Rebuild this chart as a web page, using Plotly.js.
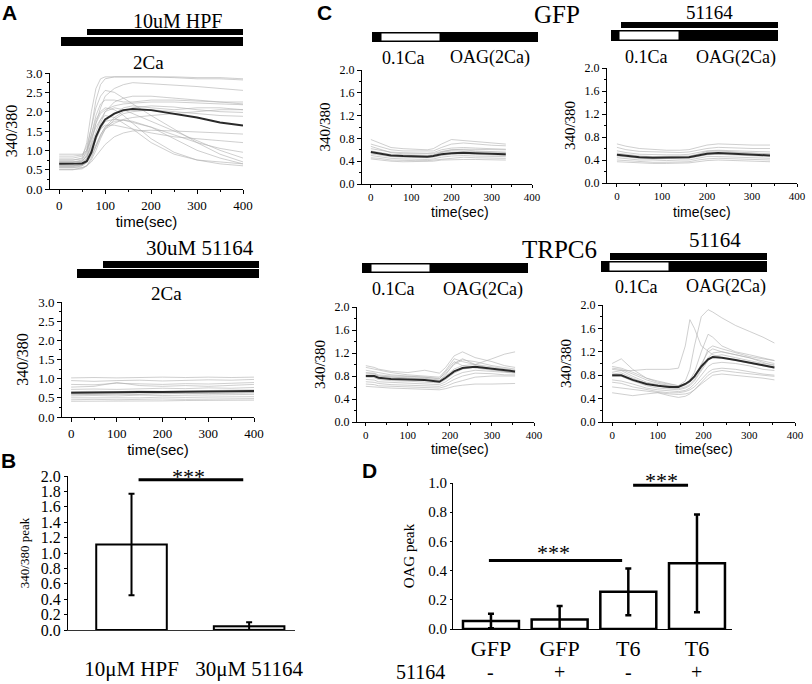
<!DOCTYPE html>
<html><head><meta charset="utf-8">
<script src="https://cdn.plot.ly/plotly-3.0.1.min.js"></script>
<style>html,body{margin:0;padding:0;background:#fff}#chart{width:812px;height:684px}</style>
</head><body><div id="chart"></div>
<script>
// ---------------- DATA ----------------
// Panel A top: 10uM HPF in 2Ca
const tA = [0,30,50,60,70,80,90,100,120,140,160,200,250,300,350,400];
const aMean = [0.65,0.65,0.66,0.72,0.95,1.35,1.62,1.8,1.95,2.04,2.07,2.04,1.95,1.85,1.72,1.64];
const aCells = [
 [0.75,0.75,0.8,1.2,2.0,2.6,2.85,2.9,2.9,2.9,2.9,2.9,2.9,2.88,2.88,2.85],
 [0.7,0.7,0.75,1.0,1.6,2.3,2.7,2.85,2.9,2.9,2.9,2.9,2.88,2.85,2.85,2.82],
 [0.6,0.6,0.65,0.8,1.2,1.7,2.1,2.4,2.6,2.7,2.75,2.72,2.7,2.65,2.6,2.55],
 [0.55,0.55,0.6,0.7,0.9,1.3,1.7,2.0,2.25,2.35,2.4,2.4,2.35,2.3,2.25,2.2],
 [0.65,0.65,0.7,0.9,1.3,1.7,1.95,2.05,2.15,2.2,2.22,2.25,2.25,2.22,2.2,2.18],
 [0.8,0.8,0.85,1.0,1.4,1.8,2.0,2.1,2.05,1.9,1.7,1.3,0.95,0.75,0.65,0.6],
 [0.9,0.9,0.9,1.0,1.3,1.6,1.8,1.9,1.85,1.7,1.55,1.2,0.9,0.75,0.7,0.65],
 [0.5,0.5,0.55,0.6,0.75,1.0,1.3,1.55,1.8,1.95,2.0,2.05,2.0,1.95,1.9,1.88],
 [0.55,0.55,0.55,0.6,0.7,0.85,1.0,1.15,1.35,1.45,1.5,1.52,1.5,1.48,1.45,1.42],
 [0.7,0.7,0.72,0.85,1.1,1.4,1.6,1.75,1.8,1.78,1.72,1.6,1.4,1.2,1.05,0.95],
 [0.85,0.85,0.88,1.1,1.6,2.1,2.4,2.55,2.5,2.35,2.2,1.9,1.55,1.2,0.9,0.7],
 [0.6,0.6,0.62,0.7,0.9,1.15,1.4,1.6,1.85,2.0,2.1,2.15,2.12,2.05,2.0,1.98],
 [0.65,0.65,0.68,0.8,1.05,1.35,1.55,1.65,1.65,1.6,1.55,1.45,1.35,1.3,1.25,1.2],
 [0.75,0.75,0.78,0.95,1.4,1.9,2.2,2.3,2.3,2.25,2.25,2.3,2.3,2.28,2.25,2.25],
 [0.5,0.5,0.52,0.6,0.8,1.1,1.4,1.6,1.75,1.78,1.75,1.6,1.3,1.0,0.8,0.65],
 [0.6,0.6,0.62,0.75,1.0,1.3,1.55,1.75,1.95,2.1,2.15,2.1,2.05,2.1,2.1,2.05],
 [0.7,0.7,0.72,0.85,1.15,1.5,1.8,2.0,2.1,2.05,1.95,1.75,1.5,1.25,1.0,0.8],
 [0.58,0.58,0.6,0.68,0.85,1.1,1.35,1.55,1.7,1.8,1.85,1.9,1.95,2.0,2.05,2.05]
];
// Panel A bottom: 30uM 51164 in 2Ca
const tB = [0,50,100,150,200,250,300,350,400];
const bMean = [0.63,0.64,0.65,0.65,0.65,0.66,0.66,0.67,0.68];
const bCells = [
 [1.02,1.03,1.02,1.03,1.04,1.03,1.04,1.03,1.04],
 [0.95,0.93,0.95,0.96,0.94,0.95,0.97,0.96,0.98],
 [0.85,0.84,0.88,0.86,0.85,0.87,0.86,0.88,0.9],
 [0.78,0.8,0.9,0.82,0.8,0.82,0.8,0.83,0.85],
 [0.72,0.73,0.72,0.74,0.75,0.74,0.76,0.75,0.77],
 [0.66,0.67,0.66,0.68,0.67,0.68,0.69,0.7,0.71],
 [0.6,0.6,0.61,0.6,0.62,0.61,0.62,0.63,0.63],
 [0.55,0.56,0.55,0.57,0.56,0.57,0.58,0.58,0.59],
 [0.5,0.5,0.51,0.5,0.52,0.51,0.52,0.52,0.53],
 [0.45,0.46,0.45,0.46,0.47,0.46,0.47,0.47,0.48],
 [0.41,0.41,0.42,0.42,0.42,0.43,0.43,0.43,0.44],
 [0.58,0.59,0.6,0.59,0.61,0.62,0.61,0.62,0.64]
];
// Panel B: peaks
const bCats = ['10\u03bcM HPF','30\u03bcM 51164'];
const bPeak = [1.11, 0.05];
const bErr = [0.66, 0.05];
// Panel C: GFP
const tC1 = [0,20,50,80,110,140,155,175,200,230,260,300,335];
const c1Mean = [0.56,0.54,0.50,0.49,0.48,0.48,0.49,0.52,0.54,0.55,0.54,0.53,0.52];
const c1Cells = [
 [0.78,0.72,0.64,0.62,0.61,0.6,0.62,0.7,0.78,0.76,0.74,0.72,0.7],
 [0.7,0.66,0.6,0.58,0.58,0.57,0.58,0.64,0.7,0.72,0.7,0.68,0.67],
 [0.62,0.6,0.56,0.55,0.54,0.54,0.55,0.6,0.63,0.64,0.63,0.62,0.61],
 [0.58,0.56,0.52,0.51,0.5,0.5,0.51,0.55,0.58,0.58,0.57,0.56,0.55],
 [0.53,0.51,0.48,0.47,0.46,0.46,0.47,0.5,0.52,0.53,0.52,0.51,0.5],
 [0.5,0.48,0.45,0.44,0.43,0.43,0.44,0.47,0.49,0.5,0.49,0.48,0.48],
 [0.46,0.45,0.42,0.41,0.41,0.41,0.42,0.44,0.46,0.47,0.46,0.45,0.45],
 [0.44,0.42,0.4,0.39,0.39,0.39,0.4,0.42,0.43,0.43,0.43,0.42,0.42],
 [0.55,0.53,0.5,0.5,0.49,0.49,0.5,0.56,0.6,0.6,0.58,0.57,0.56],
 [0.66,0.62,0.55,0.53,0.53,0.52,0.53,0.57,0.6,0.61,0.61,0.6,0.6]
];
// Panel C: GFP + 51164
const tC2 = [0,20,50,80,110,140,160,180,200,225,260,300,340];
const c2Mean = [0.49,0.47,0.45,0.44,0.44,0.45,0.45,0.48,0.51,0.52,0.51,0.49,0.48];
const c2Cells = [
 [0.68,0.64,0.6,0.58,0.57,0.57,0.58,0.62,0.66,0.68,0.67,0.66,0.66],
 [0.62,0.58,0.55,0.54,0.53,0.53,0.54,0.57,0.6,0.62,0.61,0.6,0.6],
 [0.56,0.53,0.5,0.49,0.49,0.49,0.5,0.53,0.56,0.57,0.56,0.55,0.54],
 [0.52,0.5,0.47,0.46,0.46,0.46,0.47,0.5,0.53,0.54,0.53,0.52,0.51],
 [0.47,0.45,0.43,0.42,0.42,0.42,0.43,0.46,0.49,0.5,0.49,0.47,0.46],
 [0.44,0.42,0.4,0.4,0.39,0.4,0.4,0.43,0.46,0.46,0.45,0.44,0.43],
 [0.4,0.39,0.37,0.36,0.36,0.37,0.37,0.4,0.42,0.43,0.42,0.41,0.4],
 [0.37,0.36,0.35,0.34,0.34,0.34,0.35,0.37,0.39,0.4,0.39,0.38,0.37],
 [0.5,0.48,0.46,0.45,0.45,0.45,0.46,0.5,0.55,0.56,0.54,0.52,0.5]
];
// Panel C: TRPC6
const tC3 = [0,20,30,60,100,140,175,190,210,230,260,300,330,355];
const c3Mean = [0.8,0.8,0.77,0.75,0.74,0.73,0.7,0.77,0.88,0.94,0.96,0.93,0.9,0.88];
const c3Cells = [
 [0.98,0.95,0.92,0.88,0.86,0.9,0.85,0.95,1.15,1.22,1.12,1.05,0.98,0.95],
 [0.95,0.92,0.9,0.86,0.82,0.8,0.78,0.9,1.1,1.05,1.0,1.1,1.18,1.22],
 [0.9,0.88,0.86,0.82,0.8,0.78,0.76,0.85,1.0,1.08,1.05,0.98,0.95,0.92],
 [0.85,0.84,0.8,0.78,0.77,0.76,0.73,0.8,0.92,0.98,1.0,0.96,0.92,0.9],
 [0.78,0.77,0.74,0.72,0.71,0.7,0.68,0.74,0.85,0.92,0.95,0.92,0.88,0.86],
 [0.74,0.73,0.7,0.69,0.68,0.67,0.65,0.7,0.8,0.86,0.9,0.88,0.86,0.85],
 [0.7,0.69,0.67,0.65,0.64,0.63,0.62,0.66,0.74,0.8,0.85,0.84,0.82,0.82],
 [0.66,0.65,0.63,0.62,0.61,0.6,0.59,0.62,0.68,0.72,0.78,0.8,0.8,0.8],
 [0.62,0.61,0.6,0.59,0.58,0.57,0.56,0.58,0.62,0.64,0.66,0.66,0.67,0.67],
 [0.82,0.82,0.8,0.78,0.76,0.75,0.72,0.82,1.02,1.1,1.0,0.92,0.88,0.86],
 [0.86,0.85,0.82,0.8,0.79,0.78,0.75,0.88,1.05,0.98,0.94,0.9,0.88,0.86]
];
// Panel C: TRPC6 + 51164
const tC4 = [0,20,45,75,100,125,145,160,170,180,195,210,220,240,270,300,330,355];
const c4Mean = [0.8,0.8,0.72,0.65,0.62,0.6,0.6,0.65,0.7,0.78,0.95,1.07,1.11,1.1,1.06,1.02,0.97,0.93];
const c4Cells = [
 [0.9,0.88,0.88,0.9,0.9,0.9,0.92,1.3,1.75,1.6,1.3,1.2,1.15,1.1,1.05,1.0,0.95,0.92],
 [0.95,0.92,0.85,0.75,0.7,0.65,0.62,0.7,0.9,1.3,1.8,1.92,1.88,1.78,1.65,1.55,1.45,1.35],
 [1.0,1.08,0.9,0.75,0.68,0.64,0.62,0.66,0.72,0.85,1.2,1.5,1.45,1.3,1.2,1.15,1.1,1.05],
 [0.85,0.88,0.78,0.68,0.64,0.62,0.6,0.64,0.68,0.75,0.95,1.25,1.3,1.25,1.18,1.12,1.08,1.05],
 [0.78,0.78,0.7,0.62,0.58,0.56,0.55,0.58,0.62,0.7,0.88,1.05,1.12,1.15,1.1,1.05,1.0,0.98],
 [0.72,0.7,0.65,0.58,0.55,0.53,0.52,0.54,0.58,0.65,0.8,0.95,1.0,1.02,1.0,0.96,0.9,0.88],
 [0.68,0.66,0.6,0.55,0.52,0.5,0.5,0.52,0.55,0.6,0.72,0.85,0.9,0.92,0.9,0.86,0.82,0.8],
 [0.6,0.58,0.55,0.52,0.5,0.48,0.47,0.48,0.5,0.55,0.65,0.75,0.8,0.82,0.8,0.78,0.75,0.72],
 [0.5,0.48,0.45,0.48,0.5,0.45,0.42,0.44,0.48,0.55,0.68,0.8,0.85,0.88,0.85,0.82,0.8,0.78],
 [0.92,0.9,0.82,0.72,0.66,0.62,0.6,0.63,0.68,0.78,1.0,1.2,1.25,1.2,1.15,1.1,1.05,1.0],
 [0.82,0.84,0.75,0.66,0.62,0.58,0.57,0.6,0.64,0.72,0.9,1.1,1.18,1.2,1.15,1.1,1.02,0.96]
];
// Panel D: OAG peaks
const dCats = ['GFP','GFP','T6','T6'];
const dDrug = ['-','+','-','+'];
const dPeak = [0.055,0.065,0.255,0.45];
const dErr = [0.05,0.092,0.16,0.335];

// ---------------- HELPERS ----------------
const W = 812, H = 684;
const PX = v => v / W;
const PY = v => 1 - v / H;
const dx = (a,b) => [PX(a), PX(b)];
const dy = (t,b) => [PY(b), PY(t)];
const SERIF = 'Liberation Serif';
const SANS = 'Liberation Sans';
const GREY = 'rgba(175,175,175,0.75)';

const traces = [];
function addPanel(t, cells, mean, xa, ya) {
  cells.forEach(c => traces.push({x: t, y: c, xaxis: xa, yaxis: ya, type: 'scatter', mode: 'lines',
    line: {color: GREY, width: 0.8}, hoverinfo: 'skip', showlegend: false}));
  traces.push({x: t, y: mean, xaxis: xa, yaxis: ya, type: 'scatter', mode: 'lines',
    line: {color: '#2a2a2a', width: 2}, showlegend: false});
}
addPanel(tA, aCells, aMean, 'x', 'y');
addPanel(tB, bCells, bMean, 'x2', 'y2');
addPanel(tC1, c1Cells, c1Mean, 'x4', 'y4');
addPanel(tC2, c2Cells, c2Mean, 'x5', 'y5');
addPanel(tC3, c3Cells, c3Mean, 'x6', 'y6');
addPanel(tC4, c4Cells, c4Mean, 'x7', 'y7');

traces.push({type: 'bar', x: [0,1], y: bPeak, xaxis: 'x3', yaxis: 'y3', width: 0.6,
  marker: {color: ['#ffffff','#dcdcdc'], line: {color: '#000', width: 2}},
  error_y: {type: 'data', array: bErr, visible: true, color: '#000', thickness: 2, width: 3},
  showlegend: false});
traces.push({type: 'bar', x: [0,1,2,3], y: dPeak, xaxis: 'x8', yaxis: 'y8', width: 0.815,
  marker: {color: '#ffffff', line: {color: '#000', width: 2.5}},
  error_y: {type: 'data', array: dErr, visible: true, color: '#000', thickness: 2.5, width: 3},
  showlegend: false});

function timeAx(dom, range, anchor, fs, withTitle, tl) {
  return {domain: dom, range: range, anchor: anchor, showline: true, linecolor: '#000', linewidth: 1,
    ticks: 'outside', ticklen: tl || 4, tickcolor: '#000', tickvals: [0,100,200,300,400],
    minor: {ticks: 'outside', ticklen: 2, tickcolor: '#000', tickvals: [50,150,250,350]},
    showgrid: false, zeroline: false, tickfont: {family: SERIF, size: fs, color: '#000'},
    title: withTitle ? {text: 'time(sec)', font: {family: SANS, size: 15, color: '#000'}, standoff: 2} : {text: ''}};
}
function ratioAx(dom, range, anchor, dt, mdt, fs, tfs, so) {
  return {domain: dom, range: range, anchor: anchor, showline: true, linecolor: '#000', linewidth: 1,
    ticks: 'outside', ticklen: 4, tickcolor: '#000', dtick: dt, tick0: 0, tickformat: '.1f',
    minor: {ticks: 'outside', ticklen: 2, tickcolor: '#000', dtick: mdt},
    showgrid: false, zeroline: false, tickfont: {family: SERIF, size: fs, color: '#000'},
    title: {text: '340/380', font: {family: SERIF, size: tfs, color: '#000'}, standoff: so}};
}

const layout = {
  width: W, height: H, margin: {l: 0, r: 0, t: 0, b: 0}, showlegend: false,
  paper_bgcolor: '#fff', plot_bgcolor: 'rgba(0,0,0,0)', bargap: 0,
  xaxis: timeAx(dx(50,243), [-20,400], 'y', 13, true),
  yaxis: ratioAx(dy(73,189), [0,3], 'x', 0.5, 0.25, 13, 16, 4),
  xaxis2: timeAx(dx(62,254), [-20,400], 'y2', 13, true),
  yaxis2: ratioAx(dy(302,417), [0,3], 'x2', 0.5, 0.25, 13, 16, 5),
  xaxis3: {domain: dx(68,295), range: [-0.54,1.39], anchor: 'y3', showline: true, linecolor: '#333', linewidth: 1,
    ticks: '', tickvals: [0,1], ticktext: bCats, ticklabelstandoff: 20, showgrid: false, zeroline: false,
    tickfont: {family: SERIF, size: 21, color: '#000'}},
  yaxis3: {domain: dy(476,630), range: [0,2], anchor: 'x3', showline: true, linecolor: '#000', linewidth: 1,
    ticks: 'outside', ticklen: 3, tickcolor: '#000', dtick: 0.2, tickformat: '.1f', showgrid: false, zeroline: false,
    tickfont: {family: SERIF, size: 16, color: '#000'},
    title: {text: '340/380 peak', font: {family: SERIF, size: 13, color: '#000'}, standoff: 8}},
  xaxis4: timeAx(dx(362,532), [-22,400], 'y4', 11, false, 3),
  yaxis4: ratioAx(dy(70,184), [0,2], 'x4', 0.4, 0.2, 12, 15, 5),
  xaxis5: timeAx(dx(607,797), [-22,400], 'y5', 11, false, 3),
  yaxis5: ratioAx(dy(68,183), [0,2], 'x5', 0.4, 0.2, 12, 15, 5),
  xaxis6: timeAx(dx(357,534), [-21,400], 'y6', 11, false, 3),
  yaxis6: ratioAx(dy(307,422), [0,2], 'x6', 0.4, 0.2, 12, 15, 5),
  xaxis7: timeAx(dx(603,795), [-20,400], 'y7', 11, false, 3),
  yaxis7: ratioAx(dy(305,422), [0,2], 'x7', 0.4, 0.2, 12, 15, 5),
  xaxis8: {domain: dx(453,732), range: [-0.553,3.51], anchor: 'y8', showline: true, linecolor: '#000', linewidth: 1,
    ticks: '', tickvals: [0,1,2,3], ticktext: dCats, ticklabelstandoff: 0, showgrid: false, zeroline: false,
    tickfont: {family: SERIF, size: 22, color: '#000'}},
  yaxis8: {domain: dy(483,629), range: [0,1], anchor: 'x8', showline: true, linecolor: '#000', linewidth: 1,
    ticks: 'outside', ticklen: 2, tickcolor: '#000', dtick: 0.2, tickformat: '.1f', showgrid: false, zeroline: false,
    tickfont: {family: SERIF, size: 15, color: '#000'},
    title: {text: 'OAG peak', font: {family: SERIF, size: 15, color: '#000'}, standoff: 10}},
  shapes: [],
  annotations: []
};

// condition bars (pixel placed decorations)
function blk(x0,x1,y0,y1){ layout.shapes.push({type:'rect', xref:'paper', yref:'paper', x0:PX(x0), x1:PX(x1), y0:PY(y1), y1:PY(y0), fillcolor:'#000', line:{width:0}}); }
function wht(x0,x1,y0,y1){ layout.shapes.push({type:'rect', xref:'paper', yref:'paper', x0:PX(x0), x1:PX(x1), y0:PY(y1), y1:PY(y0), fillcolor:'#fff', line:{color:'#000', width:1}}); }
function txt(s,x,y,size,fam,bold){ layout.annotations.push({text: bold ? '<b>'+s+'</b>' : s, xref:'paper', yref:'paper', x:PX(x), y:PY(y), xanchor:'center', yanchor:'middle', showarrow:false, font:{family: fam||SERIF, size:size, color:'#000'}}); }

// A
txt('10uM HPF', 177, 21, 20);
blk(87,243,29,35); blk(61,243,37,46);
txt('2Ca', 148, 62, 19);
txt('30uM 51164', 200, 248, 21);
blk(103,259,261,268); blk(77,259,269,278);
txt('2Ca', 166, 293, 19);
// C GFP
blk(372,538,32,42); wht(381,440,33,41);
txt('0.1Ca', 403, 58, 18); txt('OAG(2Ca)', 490, 58, 18);
txt('GFP', 557, 14, 25);
txt('time(sec)', 460, 212, 14, SANS);
// C GFP + 51164
txt('51164', 709, 12, 19);
blk(621,778,22,28); blk(611,778,30,41); wht(619,679,31,40);
txt('0.1Ca', 646, 57, 18); txt('OAG(2Ca)', 736, 57, 18);
txt('time(sec)', 702, 212, 14, SANS);
// C TRPC6
blk(362,528,263,273); wht(371,430,264,272);
txt('0.1Ca', 393, 289, 18); txt('OAG(2Ca)', 483, 289, 18);
txt('TRPC6', 559, 250, 25);
txt('time(sec)', 460, 449, 14, SANS);
// C TRPC6 + 51164
txt('51164', 715, 240, 21);
blk(610,767,253,260); blk(601,767,261,272); wht(609,669,262,271);
txt('0.1Ca', 636, 287, 18); txt('OAG(2Ca)', 726, 287, 18);
txt('time(sec)', 704, 449, 14, SANS);

// panel letters
txt('A', 9, 12, 21, SANS, true);
txt('B', 8, 461, 21, SANS, true);
txt('C', 324, 13, 21, SANS, true);
txt('D', 369, 470, 21, SANS, true);

// significance marks
layout.shapes.push({type:'line', xref:'x3', yref:'y3', x0:0.06, x1:0.95, y0:1.95, y1:1.95, line:{color:'#000', width:3}});
txt('***', 188, 477, 22);
layout.shapes.push({type:'line', xref:'x8', yref:'y8', x0:-0.03, x1:1.91, y0:0.47, y1:0.47, line:{color:'#000', width:3}});
txt('***', 553, 552, 22);
layout.shapes.push({type:'line', xref:'x8', yref:'y8', x0:2.07, x1:2.87, y0:0.985, y1:0.985, line:{color:'#000', width:3}});
txt('***', 661, 480, 22);

// D drug row
txt('51164', 420, 672, 20);
dDrug.forEach((s,i) => layout.annotations.push({text:s, xref:'x8', yref:'paper', x:i, y:PY(672), showarrow:false, yanchor:'middle', font:{family:SERIF, size:20, color:'#000'}}));

Plotly.newPlot('chart', traces, layout, {staticPlot: true, displayModeBar: false});
</script></body></html>
